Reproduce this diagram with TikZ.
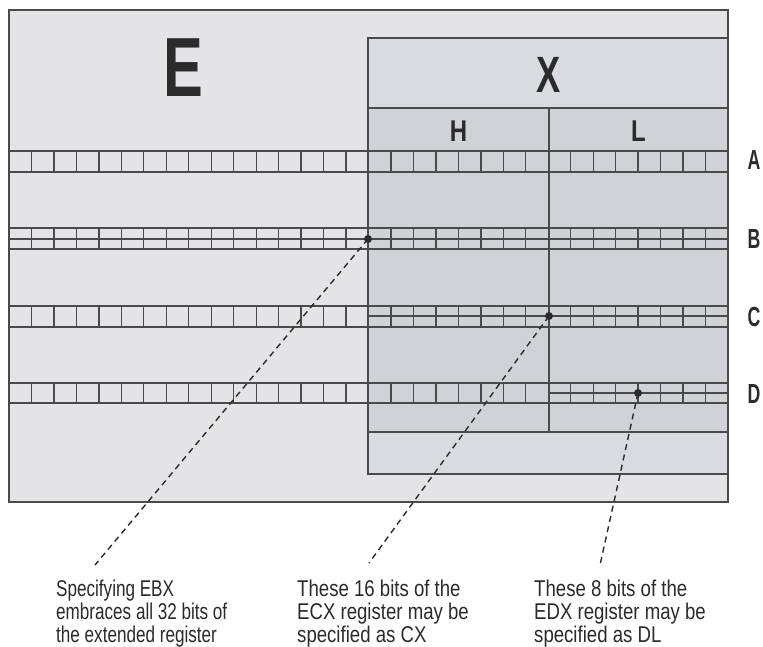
\documentclass[tikz,border=0pt]{standalone}
\usepackage{fontspec}
\setmainfont{Liberation Sans}
\newfontfamily\notefont[FakeStretch=0.816]{Liberation Sans}
\newfontfamily\notefonta[FakeStretch=0.75]{Liberation Sans}
\newfontfamily\bigfont[FakeStretch=0.71]{Liberation Sans}
\newfontfamily\labfont[FakeStretch=0.64]{Liberation Sans}
\newfontfamily\hlfont[FakeStretch=0.8]{Liberation Sans}
\definecolor{outerbg}{HTML}{E4E4E6}
\definecolor{xhead}{HTML}{DADBDE}
\definecolor{hlbg}{HTML}{D1D2D5}
\definecolor{linec}{HTML}{4A4A4A}
\definecolor{txt}{HTML}{2B2B2B}
\tikzset{
  frame/.style={draw=linec, line width=1.3pt},
  dot/.style={circle, fill=txt, inner sep=0pt, minimum size=8pt},
  leader/.style={draw=txt, line width=1.4pt, dash pattern=on 6pt off 4.5pt},
  reglabel/.style={font=\labfont\bfseries\fontsize{27.6}{28}\selectfont, text=txt, inner sep=0pt},
  biglabel/.style={text=txt, inner sep=0pt},
  note/.style={font=\notefont\fontsize{22.8}{23}\selectfont, text=txt, align=left, anchor=north west, inner sep=0pt}
}
\begin{document}
\begin{tikzpicture}[x=1pt,y=-1pt]
\useasboundingbox[fill=white] (0,0) rectangle (763,646);
% backgrounds
\fill[outerbg] (9,10) rectangle (728,502);
\fill[xhead] (368,38) rectangle (728,474);
\fill[hlbg] (368,108) rectangle (728,432);
% frames
\draw[frame] (9,10) rectangle (728,502);
\draw[frame] (368,38) rectangle (728,474);
\draw[frame] (368,108) -- (728,108);
\draw[frame] (368,432) -- (728,432);
\draw[frame] (549,108) -- (549,432);
% bit rows
\foreach \tp/\bt in {151/172, 228/249, 306/327, 383/403} {
  \draw[frame] (9,\tp) rectangle (728,\bt);
  \foreach \i in {1,...,31}
    \draw[frame] ({9+\i*22.469},\tp) -- ({9+\i*22.469},\bt);
}
\draw[frame] (9,239) -- (728,239);
\draw[frame] (368,316) -- (728,316);
\draw[frame] (549,393) -- (728,393);
% big labels
\node[biglabel, font=\bigfont\bfseries\fontsize{84}{84}\selectfont] (E) at (183,68) {E};
\node[biglabel, font=\bigfont\bfseries\fontsize{51}{51}\selectfont] (X) at (549,74.5) {X};
\node[biglabel, font=\hlfont\bfseries\fontsize{30}{31}\selectfont] (H) at (458.5,131) {H};
\node[biglabel, font=\hlfont\bfseries\fontsize{30}{31}\selectfont] (L) at (638.5,131) {L};
% row labels
\node[reglabel] (la) at (754,160) {A};
\node[reglabel] (lb) at (754,238.5) {B};
\node[reglabel] (lc) at (754,316.5) {C};
\node[reglabel] (ld) at (754,393.5) {D};
% dots
\node[dot] (pb) at (368,239) {};
\node[dot] (pc) at (549,316) {};
\node[dot] (pd) at (638,393) {};
% notes
\node[note, font=\notefonta\fontsize{22.8}{23}\selectfont] (n1) at (56,580) {Specifying EBX\\embraces all 32 bits of\\the extended register};
\node[note] (n2) at (297,580) {These 16 bits of the\\ECX register may be\\specified as CX};
\node[note] (n3) at (534,580) {These 8 bits of the\\EDX register may be\\specified as DL};
% leader ends
\coordinate (eb) at (95,565);
\coordinate (ec) at (369,563);
\coordinate (ed) at (600,565);
\draw[leader] (pb.center) -- (eb);
\draw[leader] (pc.center) -- (ec);
\draw[leader] (pd.center) -- (ed);
\end{tikzpicture}
\end{document}
